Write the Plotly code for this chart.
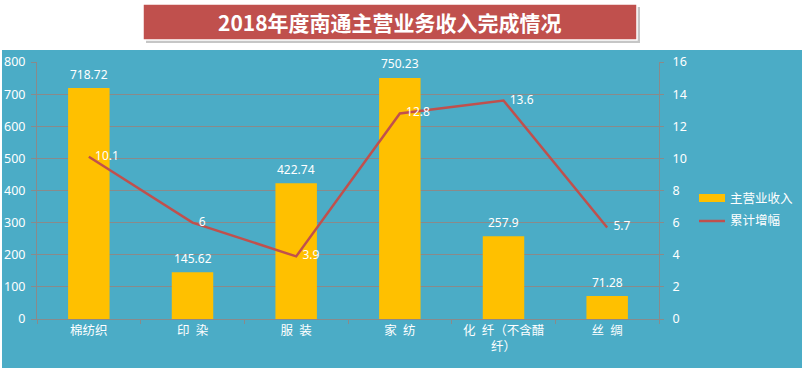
import plotly.graph_objects as go

categories = ["棉纺织", "印\u2002染", "服\u2002装", "家\u2002纺", "化\u2002纤（不含醋<br>纤）", "丝\u2002绸"]
revenue = [718.72, 145.62, 422.74, 750.23, 257.9, 71.28]
growth = [10.1, 6, 3.9, 12.8, 13.6, 5.7]
revenue_labels = ["718.72", "145.62", "422.74", "750.23", "257.9", "71.28"]
growth_labels = ["10.1", "6", "3.9", "12.8", "13.6", "5.7"]
series_names = ["主营业收入", "累计增幅"]

TEAL = "#4BACC6"
GRID = "#8a8a8a"
BAR = "#FFC000"
LINE = "#C0504D"
FONT = "Noto Sans, Noto Sans CJK SC, sans-serif"
CJK = "Noto Sans CJK SC, sans-serif"

# plot area in pixels
L, R, T, B = 37, 659, 62, 319
W, H = R - L, B - T


def px(x):
    return (x - L) / W


def py(y):
    return (B - y) / H


fig = go.Figure()

fig.add_trace(go.Bar(
    x=categories, y=revenue, name=series_names[0],
    marker=dict(color=BAR, line=dict(width=0)),
    xaxis="x", yaxis="y", showlegend=False, hoverinfo="skip",
))

fig.add_trace(go.Scatter(
    x=categories, y=growth, name=series_names[1], mode="lines+text",
    line=dict(color=LINE, width=2.5),
    text=["  " + s for s in growth_labels], textposition="middle right",
    textfont=dict(color="white", size=12, family=FONT),
    cliponaxis=False, xaxis="x2", yaxis="y2", showlegend=False, hoverinfo="skip",
))

# bar value labels
for c, v, s in zip(categories, revenue, revenue_labels):
    fig.add_annotation(x=c, y=v, xref="x", yref="y", text=s, showarrow=False,
                       yshift=14, font=dict(color="white", size=12, family=FONT),
                       xanchor="center", yanchor="middle")

# chart background rectangle (teal) and title box
fig.add_shape(type="rect", xref="paper", yref="paper",
              x0=px(2), x1=px(803), y0=py(368), y1=py(50),
              fillcolor=TEAL, line=dict(width=0), layer="below")
fig.add_shape(type="rect", xref="paper", yref="paper",
              x0=px(146), x1=px(640), y0=py(43), y1=py(7),
              fillcolor="#a0a0a0", line=dict(width=0), layer="below", opacity=0.6)
fig.add_shape(type="rect", xref="paper", yref="paper",
              x0=px(143), x1=px(637), y0=py(40), y1=py(4),
              fillcolor=LINE, line=dict(color="white", width=1.5), layer="below")

fig.add_annotation(text="<b>2018年度南通主营业务收入完成情况</b>", xref="paper", yref="paper",
                   x=px(390), y=py(22), showarrow=False,
                   font=dict(color="white", size=21, family=CJK),
                   xanchor="center", yanchor="middle")

# manual legend
fig.add_shape(type="rect", xref="paper", yref="paper",
              x0=px(699), x1=px(725), y0=py(202), y1=py(194),
              fillcolor=BAR, line=dict(width=0))
fig.add_shape(type="line", xref="paper", yref="paper",
              x0=px(699), x1=px(725), y0=py(221), y1=py(221),
              line=dict(color=LINE, width=2.5))
for name, yy in zip(series_names, [197, 219]):
    fig.add_annotation(text=name, xref="paper", yref="paper", x=px(728), y=py(yy),
                       showarrow=False, xanchor="left", yanchor="middle",
                       font=dict(color="white", size=12.5, family=CJK))

fig.update_layout(
    width=802, height=371,
    margin=dict(l=L, r=802 - R, t=T, b=371 - B, autoexpand=False),
    paper_bgcolor="white", plot_bgcolor=TEAL,
    bargap=0.6,
    showlegend=False,
    hovermode=False,
    xaxis=dict(type="category", range=[-0.5, 5.5], showgrid=False,
               showline=True, linecolor=GRID, linewidth=1,
               ticks="outside", tickson="boundaries", ticklen=4, tickcolor=GRID,
               tickfont=dict(color="white", size=12.5, family=CJK), zeroline=False,
               automargin=False),
    xaxis2=dict(type="category", range=[-0.5, 5.5], overlaying="x", visible=False),
    yaxis=dict(range=[0, 800], dtick=100, showgrid=True, gridcolor=GRID, gridwidth=1,
               showline=True, linecolor=GRID, ticks="outside", ticklen=5, tickcolor=GRID,
               tickfont=dict(color="white", size=12.5, family=FONT), zeroline=False,
               ticklabelstandoff=3, automargin=False),
    yaxis2=dict(range=[0, 16], dtick=2, overlaying="y", side="right", showgrid=False,
                showline=True, linecolor=GRID, ticks="outside", ticklen=4, tickcolor=GRID,
                tickfont=dict(color="white", size=12.5, family=FONT), zeroline=False,
                ticklabelstandoff=6, automargin=False),
)

fig.write_html("out.html", config={"displayModeBar": False},
               post_script="document.body.style.margin='0';document.body.style.overflow='hidden';")
